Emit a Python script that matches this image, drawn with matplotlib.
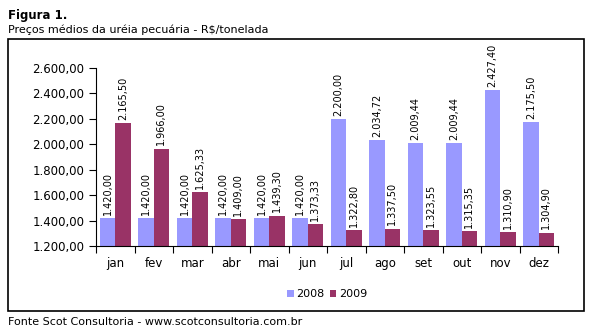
import numpy as np
import matplotlib
matplotlib.use('Agg')
import matplotlib.pyplot as plt
from matplotlib.patches import Rectangle

# Dados do gráfico
meses = ['jan', 'fev', 'mar', 'abr', 'mai', 'jun', 'jul', 'ago', 'set', 'out', 'nov', 'dez']
precos_2008 = [1420.00, 1420.00, 1420.00, 1420.00, 1420.00, 1420.00,
               2200.00, 2034.72, 2009.44, 2009.44, 2427.40, 2175.50]
precos_2009 = [2165.50, 1966.00, 1625.33, 1409.00, 1439.30, 1373.33,
               1322.80, 1337.50, 1323.55, 1315.35, 1310.90, 1304.90]
y_ticks = [1200, 1400, 1600, 1800, 2000, 2200, 2400, 2600]


def fmt_br(v):
    # formato brasileiro: 2.165,50
    s = f'{v:,.2f}'
    return s.replace(',', 'X').replace('.', ',').replace('X', '.')


plt.rcParams['font.family'] = 'DejaVu Sans'

fig = plt.figure(figsize=(5.98, 3.29), dpi=100)

# moldura do gráfico
fig.patches.append(Rectangle((8 / 598, 1 - 311 / 329), 576 / 598, 272 / 329,
                             transform=fig.transFigure, fill=False,
                             edgecolor='black', linewidth=1.2))

fig.text(8 / 598, 1 - 19 / 329, 'Figura 1.', fontsize=8.5, fontweight='bold')
fig.text(8 / 598, 1 - 33 / 329, 'Preços médios da uréia pecuária - R$/tonelada', fontsize=8)
fig.text(8 / 598, 1 - 325 / 329, 'Fonte Scot Consultoria - www.scotconsultoria.com.br', fontsize=8)

ax = fig.add_axes([96 / 598, 1 - 246 / 329, (558 - 96) / 598, (246 - 68) / 329])

x = np.arange(len(meses))
w = 0.4
b1 = ax.bar(x - w / 2, precos_2008, w, bottom=0, color='#9999FF', label='2008')
b2 = ax.bar(x + w / 2, precos_2009, w, bottom=0, color='#993366', label='2009')

for bars, vals in [(b1, precos_2008), (b2, precos_2009)]:
    for rect, v in zip(bars, vals):
        ax.text(rect.get_x() + rect.get_width() / 2, v + 25, fmt_br(v),
                rotation=90, ha='center', va='bottom', fontsize=7, clip_on=False)

ax.set_ylim(1200, 2600)
ax.set_xlim(-0.5, len(meses) - 0.5)
ax.set_yticks(y_ticks)
ax.set_yticklabels([fmt_br(t) for t in y_ticks], fontsize=8.5)

# rótulos dos meses no centro, marcas nos limites
ax.set_xticks(np.arange(-0.5, len(meses), 1.0))
ax.set_xticklabels([])
ax.set_xticks(x, minor=True)
ax.set_xticklabels(meses, minor=True, fontsize=8.5)
ax.tick_params(axis='x', which='minor', length=0, pad=8)
ax.tick_params(axis='x', which='major', length=5, direction='out')
ax.tick_params(axis='y', length=5, direction='out')

ax.spines['top'].set_visible(False)
ax.spines['right'].set_visible(False)

fig.legend(loc='center', bbox_to_anchor=(327 / 598, 1 - 294 / 329), ncol=2,
           frameon=False, fontsize=8, handlelength=0.6, handleheight=0.6,
           handletextpad=0.2, columnspacing=0.5)

fig.savefig('out.png', dpi=100)
